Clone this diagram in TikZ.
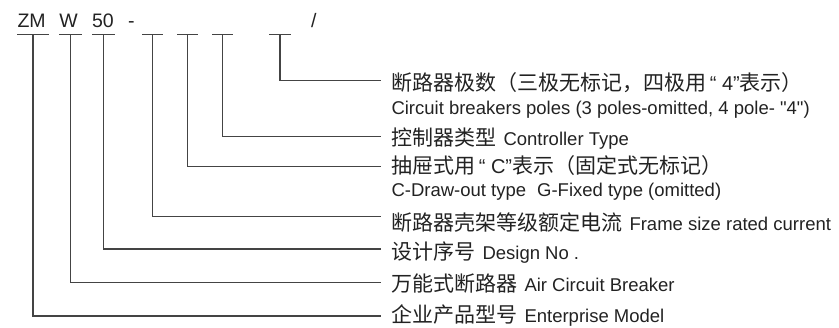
\documentclass[tikz,border=0pt]{standalone}
\usepackage{fontspec}
\setmainfont{Liberation Sans}
\newfontfamily\plainfont{Liberation Sans}[Ligatures=ResetAll]
\newfontfamily\cjk{Noto Sans CJK SC}
\definecolor{txt}{HTML}{222222}
\definecolor{linec}{HTML}{444444}
\newcommand{\cj}[1]{{\fontsize{21}{25}\selectfont\cjk #1}}
\newcommand{\en}[1]{{\fontsize{18.5}{22}\selectfont #1}}
\newcommand{\myquo}[1]{{\fontsize{20}{24}\selectfont #1}}
\newcommand{\sq}{{\plainfont"}}
\begin{document}
\begin{tikzpicture}[x=1pt,y=-1pt,
  lbl/.style={anchor=base west,inner sep=0pt,outer sep=0pt,text=txt},
  code/.style={anchor=base west,inner sep=0pt,outer sep=0pt,text=txt,font=\fontsize{19.5}{23}\selectfont},
  bar/.style={draw=linec,line width=1.1pt},
  conn/.style={draw=linec,line width=1.1pt}]
\useasboundingbox (0,0) rectangle (839,328);
% code text
\node[code] (zm) at (17.5,27.7) {ZM};
\node[code] (w) at (59.5,27.7) {W};
\node[code] (n50) at (92,27.7) {50};
\node[code] (dash) at (128,27.7) {-};
\node[code] (slash) at (311,27.7) {/};
% underscore bars
\foreach \n/\a/\b in {1/17/49,2/59/82,3/92/115,4/142/163,5/177/198,6/212/233,7/269/291}{
  \coordinate (ta\n) at (\a,34.5);
  \coordinate (tb\n) at (\b,34.5);
  \draw[bar] (ta\n) -- (tb\n);
}
\coordinate (t1) at (33,34.5);
\coordinate (t2) at (70.5,34.5);
\coordinate (t3) at (103.5,34.5);
\coordinate (t4) at (152.5,34.5);
\coordinate (t5) at (187.5,34.5);
\coordinate (t6) at (222.5,34.5);
\coordinate (t7) at (280,34.5);
% line ends
\coordinate (e7) at (381,80.5);
\coordinate (e6) at (381,136.7);
\coordinate (e5) at (381,166.7);
\coordinate (e4) at (381,216.7);
\coordinate (e3) at (381,249);
\coordinate (e2) at (381,282.7);
\coordinate (e1) at (381,316);
\foreach \n in {1,...,7}{\draw[conn] (t\n) |- (e\n);}
% labels
\node[lbl] (l7) at (391.5,90.5) {\cj{断路器极数（三极无标记，四极用}\myquo{\,“ 4”}\cj{表示）}};
\node[lbl] (l7b) at (391.5,115) {\en{Circuit breakers poles (3 poles-omitted, 4 pole- \sq 4\sq)}};
\node[lbl] (l6) at (391.5,145.5) {\cj{控制器类型}\hspace{7pt}\en{Controller Type}};
\node[lbl] (l5) at (391.5,174) {\cj{抽屉式用}\myquo{\,“ C”}\cj{表示（固定式无标记）}};
\node[lbl] (l5b) at (391.5,196.7) {\en{C-Draw-out type\hspace{11pt}G-Fixed type (omitted)}};
\node[lbl] (l4) at (391.5,230.5) {\cj{断路器壳架等级额定电流}\hspace{7pt}\en{Frame size rated current}};
\node[lbl] (l3) at (391.5,259.8) {\cj{设计序号}\hspace{7pt}\en{Design No .}};
\node[lbl] (l2) at (391.5,292) {\cj{万能式断路器}\hspace{7pt}\en{Air Circuit Breaker}};
\node[lbl] (l1) at (391.5,323) {\cj{企业产品型号}\hspace{7pt}\en{Enterprise Model}};
\end{tikzpicture}
\end{document}
